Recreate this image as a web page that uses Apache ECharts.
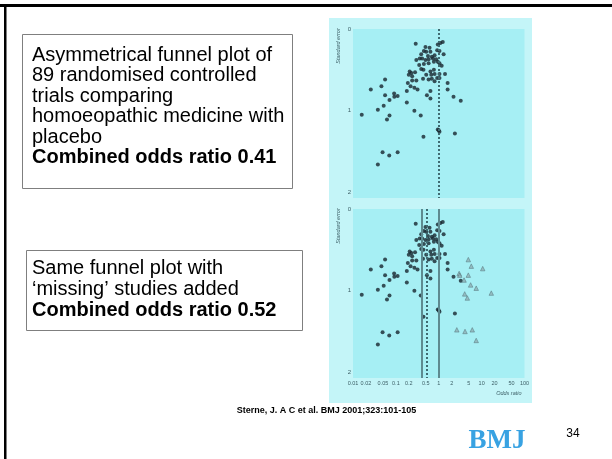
<!DOCTYPE html>
<html><head><meta charset="utf-8">
<script src="https://cdn.jsdelivr.net/npm/echarts@6/dist/echarts.min.js"></script>
<style>html,body{margin:0;padding:0;background:#fff}#c{width:612px;height:459px}</style>
</head><body><div id="c"></div>
<script>
// ---- data ----
const oddsRatio = [0.29,0.49,0.61,0.95,1.09,1.24,0.45,0.51,0.64,0.39,0.56,0.69,0.80,0.92,1.04,1.30,
  0.30,0.36,0.41,0.49,0.58,0.73,0.87,0.35,0.45,0.58,0.77,0.95,1.04,1.17,0.39,0.44,0.64,0.77,
  0.21,0.23,0.28,0.20,0.24,0.51,0.67,0.80,1.04,1.40,0.43,0.58,0.69,0.92,1.04,0.80,0.24,0.30,
  0.19,1.61,0.22,0.27,0.32,0.18,1.61,0.64,0.53,0.64,2.21,3.26,0.18,0.026,0.056,0.046,0.056,
  0.071,0.091,0.11,0.092,0.052,0.038,0.27,0.016,0.071,0.062,0.38,0.95,1.00,1.04,2.38,0.44,
  0.049,0.070,0.11,0.038];
const stdError = [0.18,0.22,0.23,0.19,0.17,0.16,0.27,0.28,0.28,0.31,0.33,0.34,0.32,0.26,0.27,0.31,
  0.38,0.36,0.36,0.38,0.37,0.36,0.37,0.44,0.43,0.42,0.40,0.40,0.42,0.45,0.49,0.50,0.52,0.50,
  0.52,0.54,0.53,0.56,0.58,0.56,0.56,0.55,0.55,0.55,0.61,0.62,0.61,0.60,0.60,0.64,0.63,0.63,
  0.66,0.66,0.70,0.72,0.74,0.76,0.74,0.76,0.81,0.85,0.83,0.88,0.90,0.74,0.62,0.70,0.81,
  0.87,0.79,0.82,0.83,0.94,0.99,1.00,1.05,1.06,1.11,1.06,1.23,1.24,1.26,1.28,1.32,
  1.51,1.55,1.51,1.66];
const missingOddsRatio = [4.89,5.74,10.6,2.99,3.09,4.89,3.89,5.54,7.48,16.8,4.03,4.64,2.64,4.10,6.05,7.48];
const missingStdError  = [0.62,0.70,0.73,0.79,0.81,0.81,0.87,0.93,0.97,1.03,1.04,1.09,1.48,1.50,1.48,1.61];
const xTickValues = [0.01,0.02,0.05,0.1,0.2,0.5,1,2,5,10,20,50,100];
const yTickValues = [0,1,2];
const nullOddsRatio = 1;
const pooledOddsRatio = 0.41;
const adjustedOddsRatio = 0.52;
const box1Lines = ['Asymmetrical funnel plot of','89 randomised controlled','trials comparing','homoeopathic medicine with','placebo'];
const box1Bold = 'Combined odds ratio 0.41';
const box2Lines = ['Same funnel plot with','\u2018missing\u2019 studies added'];
const box2Bold = 'Combined odds ratio 0.52';
const citation = 'Sterne, J. A C et al. BMJ 2001;323:101-105';
const slideNumber = '34';

// ---- build ----
const studies = oddsRatio.map((v,i)=>[v, stdError[i]]);
const missing = missingOddsRatio.map((v,i)=>[v, missingStdError[i]]);
const SANS = '"Liberation Sans", Arial, sans-serif';
const axisTxt = '#3d5f66';

function xAx(i, showLabels){
  return {type:'log', logBase:10, gridIndex:i, min:0.01, max:100, position:'bottom',
    axisLine:{show:false, onZero:false}, axisTick:{show:false}, splitLine:{show:false}, minorSplitLine:{show:false},
    axisLabel:{show:showLabels, customValues:xTickValues, fontSize:5.5, fontFamily:SANS, color:axisTxt, margin:2,
      formatter:v=>String(+(+v).toPrecision(3))},
    name: showLabels ? 'Odds ratio' : '', nameLocation:'end', nameGap:-3,
    nameTextStyle:{fontSize:5.5, fontStyle:'italic', fontFamily:SANS, color:axisTxt, align:'right', verticalAlign:'top', padding:[12,0,0,0]}};
}
function yAx(i){
  return {type:'value', gridIndex:i, inverse:true, min:0, max:2.07,
    axisLine:{show:false, onZero:false}, axisTick:{show:false}, splitLine:{show:false},
    axisLabel:{customValues:yTickValues, fontSize:6, fontFamily:SANS, color:axisTxt, margin:2,
      formatter:v=>(Number.isInteger(+v)?String(v):'')}};
}
const dotStyle = {color:'#18262e'};
const solidLine = {color:'#5e8a90', width:2, type:'solid'};
const dashLine = {color:'#3f6b72', width:2, type:[2,2]};

function txt(x,y,text,extra){
  return {type:'text', x, y, style:Object.assign({text, fill:'#000', font:'20px '+SANS, textAlign:'left', textVerticalAlign:'middle'}, extra||{})};
}
const graphics = [
  {type:'rect', z:-5, shape:{x:329,y:18,width:203,height:385}, style:{fill:'#c4f5f8'}},
  {type:'rect', shape:{x:0,y:4,width:612,height:3}, style:{fill:'#000'}},
  {type:'rect', shape:{x:4,y:4,width:2.5,height:455}, style:{fill:'#000'}},
  {type:'rect', shape:{x:22.5,y:34.5,width:270,height:154}, style:{fill:'#fff', stroke:'#7f7f7f', lineWidth:1}},
  {type:'rect', shape:{x:26.5,y:250.5,width:276,height:80}, style:{fill:'#fff', stroke:'#7f7f7f', lineWidth:1}},
];
box1Lines.forEach((t,i)=>graphics.push(txt(32, 55.5+i*20.4, t)));
graphics.push(txt(32, 55.5+5*20.4, box1Bold, {font:'bold 20px '+SANS}));
box2Lines.forEach((t,i)=>graphics.push(txt(32, 268.5+i*20.8, t)));
graphics.push(txt(32, 268.5+2*20.8, box2Bold, {font:'bold 20px '+SANS}));
graphics.push(txt(326.5, 411, citation, {font:'bold 9px '+SANS, textAlign:'center'}));
graphics.push(txt(573, 433.5, slideNumber, {font:'12px '+SANS, textAlign:'center'}));
graphics.push(txt(497, 441, 'BMJ', {font:'bold 27px "Liberation Serif", "Times New Roman", serif', fill:'#38a2e2', textAlign:'center'}));
const t1 = txt(338, 46, 'Standard error', {font:'italic 5.5px '+SANS, fill:axisTxt, textAlign:'center'}); t1.rotation = Math.PI/2; graphics.push(t1);
const t2 = txt(338, 226, 'Standard error', {font:'italic 5.5px '+SANS, fill:axisTxt, textAlign:'center'}); t2.rotation = Math.PI/2; graphics.push(t2);

const chart = echarts.init(document.getElementById('c'), null, {renderer:'canvas'});
chart.setOption({
  animation:false,
  backgroundColor:'#ffffff',
  grid:[
    {left:353, top:29, width:171.5, height:169, show:true, backgroundColor:'#a6eff4', borderWidth:0},
    {left:353, top:209, width:171.5, height:169, show:true, backgroundColor:'#a6eff4', borderWidth:0}
  ],
  xAxis:[xAx(0,false), xAx(1,true)],
  yAxis:[yAx(0), yAx(1)],
  graphic:{elements:graphics},
  series:[
    {type:'scatter', xAxisIndex:0, yAxisIndex:0, data:studies, symbol:'circle', symbolSize:4, itemStyle:dotStyle, z:3,
      markLine:{silent:true, symbol:'none', label:{show:false}, lineStyle:dashLine, data:[{xAxis:nullOddsRatio}]}},
    {type:'scatter', xAxisIndex:1, yAxisIndex:1, data:studies, symbol:'circle', symbolSize:4, itemStyle:dotStyle, z:3,
      markLine:{silent:true, symbol:'none', label:{show:false},
        data:[{xAxis:pooledOddsRatio, lineStyle:solidLine},{xAxis:nullOddsRatio, lineStyle:solidLine},{xAxis:adjustedOddsRatio, lineStyle:dashLine}]}},
    {type:'scatter', xAxisIndex:1, yAxisIndex:1, data:missing, symbol:'triangle', symbolSize:4.5,
      itemStyle:{color:'#8fb0b5', borderColor:'#4f6d73', borderWidth:0.6}, z:3}
  ]
});
</script></body></html>
